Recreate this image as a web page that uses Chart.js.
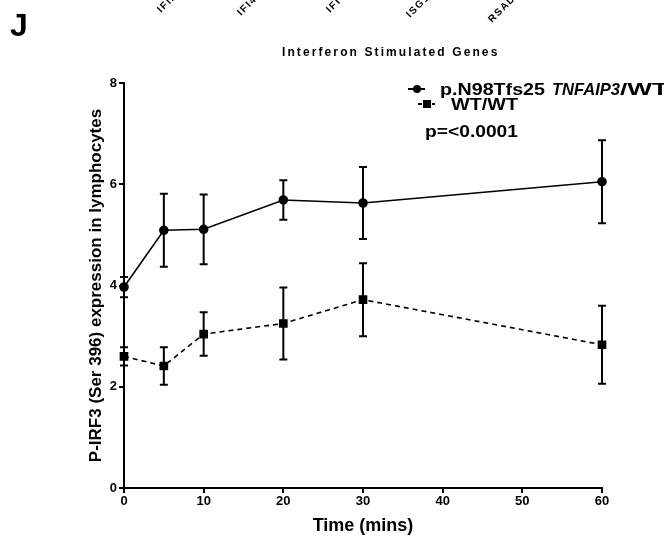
<!DOCTYPE html>
<html>
<head>
<meta charset="utf-8">
<script src="https://cdn.jsdelivr.net/npm/chart.js@4.4.1/dist/chart.umd.min.js"></script>
<style>
html, body { margin: 0; padding: 0; background: #fff; }
#wrap { position: relative; width: 664px; height: 537px; }
</style>
</head>
<body>
<div id="wrap"><canvas id="chart" width="664" height="537"></canvas></div>
<script>
// data (mean and SEM)
var times = [0, 5, 10, 20, 30, 60];
var mutMean = [3.97, 5.09, 5.11, 5.69, 5.63, 6.05];
var mutErr = [0.20, 0.72, 0.69, 0.39, 0.71, 0.82];
var wtMean = [2.60, 2.41, 3.04, 3.25, 3.72, 2.83];
var wtErr = [0.18, 0.37, 0.43, 0.71, 0.72, 0.77];
var xTicks = [0, 10, 20, 30, 40, 50, 60];
var yTicks = [0, 2, 4, 6, 8];
var geneLabels = ['IFI27', 'IFI44L', 'IFIT1', 'ISG15', 'RSAD2'];

var FONT = '"Liberation Sans", Arial, sans-serif';

function toPoints(xs, ys) {
	var out = [];
	for (var i = 0; i < xs.length; i++) out.push({ x: xs[i], y: ys[i] });
	return out;
}

// draw text stretched sideways to a given width (the figure's text is wide)
function wideText(ctx, text, x, y, width) {
	var m = ctx.measureText(text).width;
	ctx.save();
	ctx.translate(x, y);
	ctx.scale(width / m, 1);
	ctx.fillText(text, 0, 0);
	ctx.restore();
}

var errorBars = {
	id: 'errorBars',
	beforeDatasetsDraw: function (chart) {
		var ctx = chart.ctx, xs = chart.scales.x, ys = chart.scales.y;
		chart.data.datasets.forEach(function (ds) {
			ctx.save();
			ctx.strokeStyle = '#000';
			ctx.lineWidth = 2;
			ds.data.forEach(function (p, i) {
				var x = xs.getPixelForValue(p.x);
				var top = ys.getPixelForValue(p.y + ds.errors[i]);
				var bot = ys.getPixelForValue(p.y - ds.errors[i]);
				ctx.beginPath();
				ctx.moveTo(x, top); ctx.lineTo(x, bot);
				ctx.moveTo(x - 4, top); ctx.lineTo(x + 4, top);
				ctx.moveTo(x - 4, bot); ctx.lineTo(x + 4, bot);
				ctx.stroke();
			});
			ctx.restore();
		});
	}
};

var annotations = {
	id: 'annotations',
	afterDraw: function (chart) {
		var ctx = chart.ctx;
		ctx.save();
		ctx.fillStyle = '#000';
		ctx.strokeStyle = '#000';
		ctx.textBaseline = 'middle';

		// panel letter
		ctx.font = 'bold 32px ' + FONT;
		ctx.fillText('J', 10, 27);

		// gene names cut off by the top edge
		ctx.font = 'bold 10px ' + FONT;
		ctx.letterSpacing = '1.5px';
		var gx = [161, 241, 330, 410, 492];
		var gy = [13, 16, 13, 18, 23];
		geneLabels.forEach(function (g, i) {
			ctx.save();
			ctx.translate(gx[i], gy[i]);
			ctx.rotate(-Math.PI / 4);
			ctx.textBaseline = 'alphabetic';
			ctx.fillText(g, 0, 0);
			ctx.restore();
		});

		ctx.font = 'bold 12px ' + FONT;
		ctx.letterSpacing = '2.1px';
		ctx.fillText('Interferon Stimulated Genes', 282, 53);
		ctx.letterSpacing = '0px';

		// legend
		ctx.lineWidth = 2;
		ctx.beginPath(); ctx.moveTo(408, 89); ctx.lineTo(425, 89); ctx.stroke();
		ctx.beginPath(); ctx.arc(417, 89, 4, 0, Math.PI * 2); ctx.fill();
		ctx.font = 'bold 17px ' + FONT;
		wideText(ctx, 'p.N98Tfs25', 440, 90, 105);
		ctx.font = 'italic bold 17px ' + FONT;
		wideText(ctx, 'TNFAIP3', 552, 90, 68);
		ctx.font = 'bold 17px ' + FONT;
		wideText(ctx, '/WT', 620, 90, 48);

		ctx.setLineDash([4, 3]);
		ctx.beginPath(); ctx.moveTo(418, 104); ctx.lineTo(435, 104); ctx.stroke();
		ctx.setLineDash([]);
		ctx.fillRect(423, 100, 8, 8);
		wideText(ctx, 'WT/WT', 451, 105, 67);

		wideText(ctx, 'p=<0.0001', 425, 132, 93);
		ctx.restore();
	}
};

var chart = new Chart(document.getElementById('chart'), {
	type: 'line',
	data: {
		datasets: [{
			label: 'p.N98Tfs25 TNFAIP3/WT',
			data: toPoints(times, mutMean),
			errors: mutErr,
			borderColor: '#000',
			backgroundColor: '#000',
			borderWidth: 1.6,
			pointStyle: 'circle',
			pointRadius: 4,
			pointHoverRadius: 4,
			clip: false
		}, {
			label: 'WT/WT',
			data: toPoints(times, wtMean),
			errors: wtErr,
			borderColor: '#000',
			backgroundColor: '#000',
			borderWidth: 1.6,
			borderDash: [5, 4],
			pointStyle: 'rect',
			pointRadius: 5,
			pointHoverRadius: 5,
			clip: false
		}]
	},
	options: {
		responsive: false,
		devicePixelRatio: 1,
		animation: false,
		layout: { padding: { left: 0, top: 83, right: 62, bottom: 0 } },
		plugins: { legend: { display: false }, tooltip: { enabled: false } },
		scales: {
			x: {
				type: 'linear', min: 0, max: 60,
				afterBuildTicks: function (s) { s.ticks = xTicks.map(function (v) { return { value: v }; }); },
				afterFit: function (s) { s.height = 49; },
				grid: { drawOnChartArea: false, tickLength: 5, color: '#000', lineWidth: 2 },
				border: { color: '#000', width: 2 },
				ticks: { color: '#000', padding: 1, font: { family: FONT, size: 13, weight: 'bold' } },
				title: { display: true, text: 'Time (mins)', color: '#000', padding: { top: 3, bottom: 0 },
					font: { family: FONT, size: 18, weight: 'bold' } }
			},
			y: {
				type: 'linear', min: 0, max: 8,
				afterBuildTicks: function (s) { s.ticks = yTicks.map(function (v) { return { value: v }; }); },
				afterFit: function (s) { s.width = 124; },
				grid: { drawOnChartArea: false, tickLength: 5, color: '#000', lineWidth: 2 },
				border: { color: '#000', width: 2 },
				ticks: { color: '#000', padding: 2, font: { family: FONT, size: 13, weight: 'bold' } },
				title: { display: true, text: 'P-IRF3 (Ser 396) expression in lymphocytes', color: '#000',
					padding: { top: 86, bottom: 0 }, font: { family: FONT, size: 17, weight: 'bold' } }
			}
		}
	},
	plugins: [errorBars, annotations]
});
</script>
</body>
</html>
